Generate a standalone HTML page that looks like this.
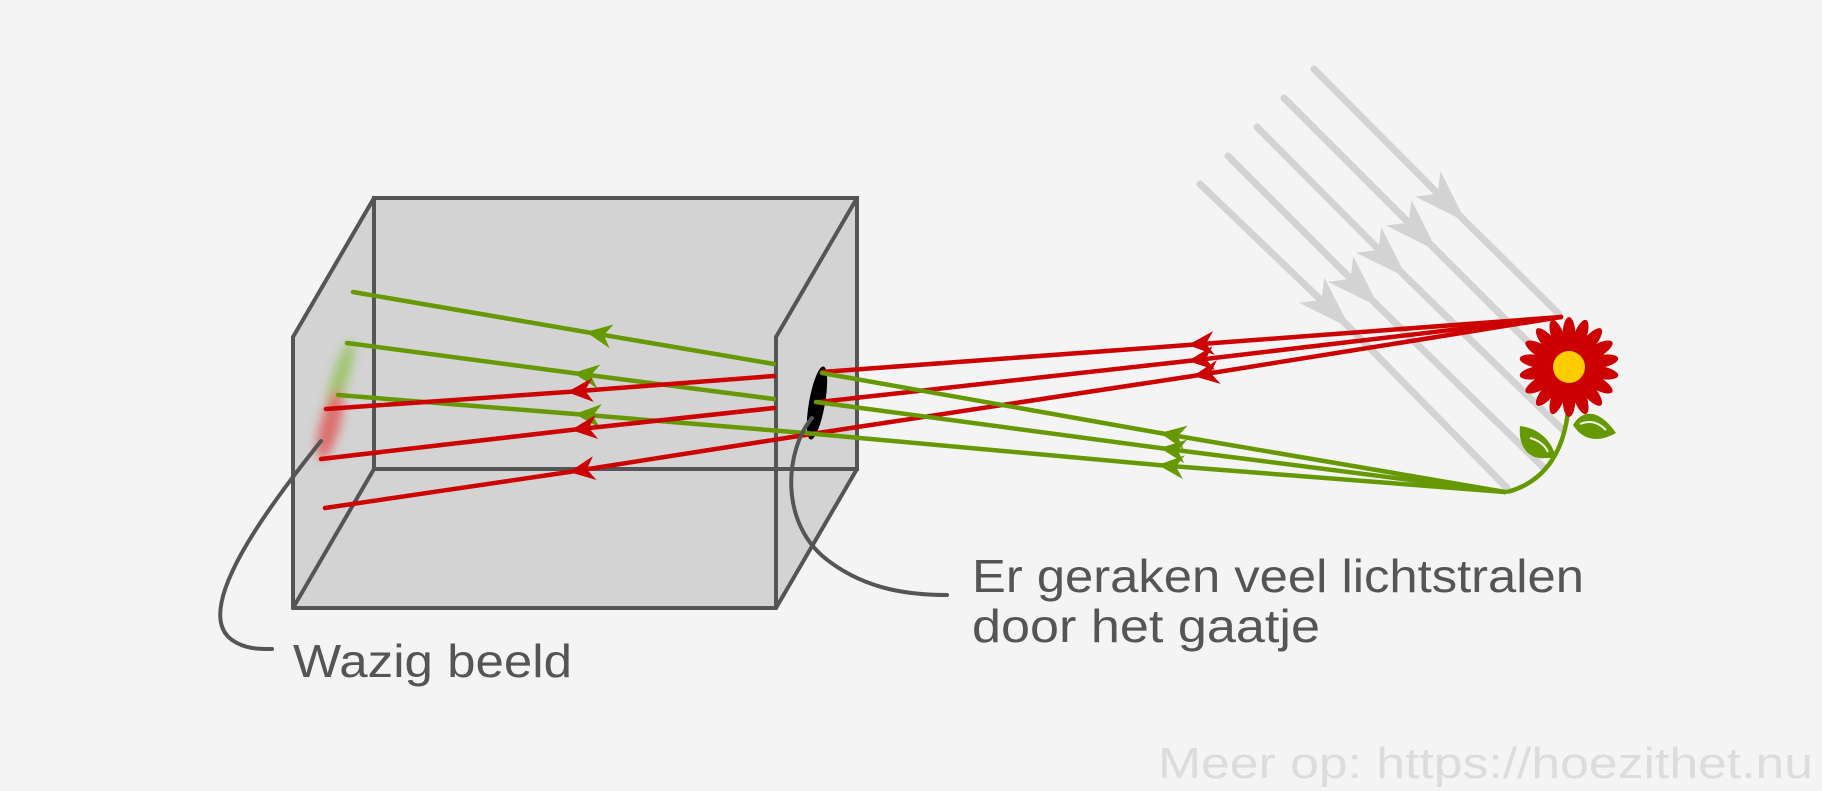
<!DOCTYPE html>
<html><head><meta charset="utf-8"><style>
html,body{margin:0;padding:0;background:#f4f4f4;}
svg{display:block;}
text{font-family:"Liberation Sans",sans-serif;}
</style></head><body>
<svg width="1822" height="791" viewBox="0 0 1822 791" xmlns="http://www.w3.org/2000/svg">
<defs>
<marker id="ar" viewBox="-26 -13 28 26" refX="0" refY="0" markerWidth="28" markerHeight="26" markerUnits="userSpaceOnUse" orient="auto"><path d="M0,0 L-26,-12 L-18,0 L-26,12 Z" fill="#cc0000"/></marker>
<marker id="ag" viewBox="-26 -13 28 26" refX="0" refY="0" markerWidth="28" markerHeight="26" markerUnits="userSpaceOnUse" orient="auto"><path d="M0,0 L-26,-12 L-18,0 L-26,12 Z" fill="#669900"/></marker>
<marker id="ay" viewBox="-56 -20 58 40" refX="0" refY="0" markerWidth="58" markerHeight="40" markerUnits="userSpaceOnUse" orient="auto"><path d="M0,0 L-54,-18 L-40,0 L-54,18 Z" fill="#d3d3d3"/></marker>
<filter id="bl"><feGaussianBlur stdDeviation="5"/></filter>
</defs>

<polygon points="293,337 374,198 857,198 857,469 776,608 293,608" fill="#d3d3d3"/>
<g stroke="#555" stroke-width="4" fill="none" stroke-linecap="round">
<rect x="374" y="198" width="483" height="271"/>
<line x1="293" y1="337" x2="293" y2="608"/>
<line x1="293" y1="608" x2="776" y2="608"/>
<line x1="776" y1="337" x2="776" y2="608"/>
<line x1="293" y1="337" x2="374" y2="198"/>
<line x1="293" y1="608" x2="374" y2="469"/>
<line x1="857" y1="198" x2="776" y2="337"/>
<line x1="857" y1="469" x2="776" y2="608"/>
</g>

<g filter="url(#bl)" opacity="0.75">
<ellipse cx="340" cy="378" rx="8" ry="38" fill="#8fbf4f" transform="rotate(18 340 378)"/>
<ellipse cx="330" cy="425" rx="10" ry="36" fill="#e05050" transform="rotate(15 330 425)"/>
</g>

<g stroke="#d3d3d3" stroke-width="7" fill="none" stroke-linecap="round">
<polyline points="1314,69 1466,222 1559,314" marker-mid="url(#ay)"/>
<polyline points="1284,98 1437,251 1568,382" marker-mid="url(#ay)"/>
<polyline points="1257,127 1407,278 1563,430" marker-mid="url(#ay)"/>
<polyline points="1228,156 1379,307 1543,467" marker-mid="url(#ay)"/>
<polyline points="1200,184 1350,328 1507,488" marker-mid="url(#ay)"/>
</g>

<g fill="none" stroke-width="4.5" stroke-linecap="round">
<polyline points="774,364 586,332 353,292" stroke="#669900" marker-mid="url(#ag)"/>
<polyline points="774,399 573,373 347,343" stroke="#669900" marker-mid="url(#ag)"/>
<polyline points="805,433 575,414 338,395" stroke="#669900" marker-mid="url(#ag)"/>
<polyline points="774,376 567,392 326,409" stroke="#cc0000" marker-mid="url(#ar)"/>
<polyline points="774,408 571,430 321,459" stroke="#cc0000" marker-mid="url(#ar)"/>
<polyline points="805,435 569,472 325,508" stroke="#cc0000" marker-mid="url(#ar)"/>
</g>

<ellipse cx="817" cy="403" rx="8" ry="37" fill="#000" transform="rotate(10 817 403)"/>

<g fill="none" stroke-width="4.5" stroke-linecap="round">
<polyline points="1561,317 1188,345 822,372" stroke="#cc0000" marker-mid="url(#ar)"/>
<polyline points="1561,317 1188,361 819,402" stroke="#cc0000" marker-mid="url(#ar)"/>
<polyline points="1561,317 1193,376 805,435" stroke="#cc0000" marker-mid="url(#ar)"/>
<polyline points="1505,492 1160,433 822,373" stroke="#669900" marker-mid="url(#ag)"/>
<polyline points="1505,492 1160,448 816,402" stroke="#669900" marker-mid="url(#ag)"/>
<polyline points="1505,492 1158,465 805,433" stroke="#669900" marker-mid="url(#ag)"/>
</g>

<path d="M1507,492 C1545,482 1568,450 1569,395" stroke="#669900" stroke-width="4.5" fill="none"/>
<path d="M1556,458 C1552,440 1538,428 1520,426 C1518,446 1528,460 1546,458 Z" fill="#669900"/>
<path d="M1573,425 C1583,408 1600,410 1616,433 C1600,442 1584,442 1573,425 Z" fill="#669900"/>
<path d="M1548,452 C1545,445 1538,440 1530,438" stroke="#f4f4f4" stroke-width="2" fill="none"/>
<path d="M1580,424 C1590,420 1598,422 1606,430" stroke="#f4f4f4" stroke-width="2" fill="none"/>
<g fill="#cc0000">
<g transform="translate(1569,367)">
<ellipse cx="0" cy="-31" rx="6.5" ry="19" transform="rotate(0)"/>
<ellipse cx="0" cy="-31" rx="6.5" ry="19" transform="rotate(20)"/>
<ellipse cx="0" cy="-31" rx="6.5" ry="19" transform="rotate(40)"/>
<ellipse cx="0" cy="-31" rx="6.5" ry="19" transform="rotate(60)"/>
<ellipse cx="0" cy="-31" rx="6.5" ry="19" transform="rotate(80)"/>
<ellipse cx="0" cy="-31" rx="6.5" ry="19" transform="rotate(100)"/>
<ellipse cx="0" cy="-31" rx="6.5" ry="19" transform="rotate(120)"/>
<ellipse cx="0" cy="-31" rx="6.5" ry="19" transform="rotate(140)"/>
<ellipse cx="0" cy="-31" rx="6.5" ry="19" transform="rotate(160)"/>
<ellipse cx="0" cy="-31" rx="6.5" ry="19" transform="rotate(180)"/>
<ellipse cx="0" cy="-31" rx="6.5" ry="19" transform="rotate(200)"/>
<ellipse cx="0" cy="-31" rx="6.5" ry="19" transform="rotate(220)"/>
<ellipse cx="0" cy="-31" rx="6.5" ry="19" transform="rotate(240)"/>
<ellipse cx="0" cy="-31" rx="6.5" ry="19" transform="rotate(260)"/>
<ellipse cx="0" cy="-31" rx="6.5" ry="19" transform="rotate(280)"/>
<ellipse cx="0" cy="-31" rx="6.5" ry="19" transform="rotate(300)"/>
<ellipse cx="0" cy="-31" rx="6.5" ry="19" transform="rotate(320)"/>
<ellipse cx="0" cy="-31" rx="6.5" ry="19" transform="rotate(340)"/>
</g>
</g>
<ellipse cx="1569" cy="367" rx="16" ry="16" fill="#ffcc00"/>

<g stroke="#555" stroke-width="4" fill="none" stroke-linecap="round">
<path d="M321,441 C270,505 190,610 232,640 C245,649 258,649 272,649"/>
<path d="M812,418 C785,450 778,525 830,562 C868,590 910,595 947,595"/>
</g>

<g fill="#555" font-size="46">
<text x="972" y="592" textLength="612" lengthAdjust="spacingAndGlyphs">Er geraken veel lichtstralen</text>
<text x="972" y="642" textLength="348" lengthAdjust="spacingAndGlyphs">door het gaatje</text>
<text x="293" y="677" textLength="279" lengthAdjust="spacingAndGlyphs">Wazig beeld</text>
</g>
<text x="1158" y="778" font-size="44" fill="#dcdcdc" textLength="655" lengthAdjust="spacingAndGlyphs">Meer op: https://hoezithet.nu</text>
</svg>
</body></html>
